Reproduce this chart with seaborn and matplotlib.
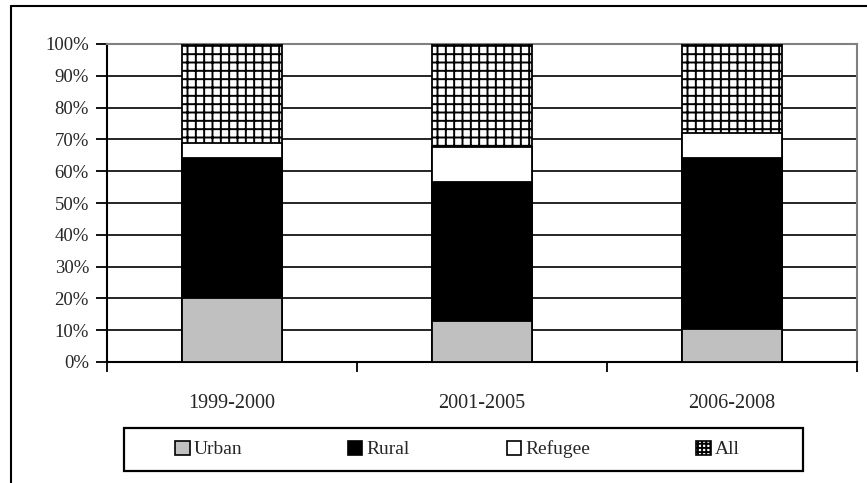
import numpy as np
import pandas as pd
import matplotlib
matplotlib.use("Agg")
import matplotlib.pyplot as plt
from matplotlib.patches import Patch, Rectangle
from matplotlib.lines import Line2D
import seaborn as sns

periods = ["1999-2000", "2001-2005", "2006-2008"]
urban = [20.0, 13.0, 10.5]
rural = [44.0, 43.5, 53.5]
refugee = [5.0, 11.0, 8.0]
all_ = [31.0, 32.5, 28.0]

series = ["Urban", "Rural", "Refugee", "All"]
colors = {"Urban": "#C0C0C0", "Rural": "#000000", "Refugee": "#FFFFFF", "All": "#FFFFFF"}
hatches = {"Urban": None, "Rural": None, "Refugee": None, "All": "++"}
legend_hatches = {"Urban": None, "Rural": None, "Refugee": None, "All": "++++"}

df = pd.DataFrame({"period": periods, "Urban": urban, "Rural": rural,
                   "Refugee": refugee, "All": all_})
cum = df[series].cumsum(axis=1)
cum["period"] = df["period"]

sns.set_style("white")
plt.rcParams["font.family"] = ["Liberation Serif", "DejaVu Serif"]
plt.rcParams["hatch.linewidth"] = 1.4

W, H = 867, 483
fig = plt.figure(figsize=(W / 100, H / 100), dpi=100)
ax = fig.add_axes([107 / W, 1 - 362 / H, 750 / W, 318 / H])

# stacked bars: draw cumulative totals from the top segment down
for s in reversed(series):
    sns.barplot(data=cum, x="period", y=s, order=periods, color=colors[s],
                width=0.4, edgecolor="black", linewidth=1.3, ax=ax,
                hatch=hatches[s], saturation=1, zorder=3)

ax.set_xlim(-0.5, 2.5)
ax.set_ylim(0, 100)
ax.set_yticks(np.arange(0, 101, 10))
ax.set_yticklabels([f"{v}%" for v in range(0, 101, 10)], fontsize=13.5)
ax.yaxis.grid(True, color="black", linewidth=1.2, zorder=0)
ax.set_axisbelow(True)
ax.set_xlabel("")
ax.set_ylabel("")
ax.tick_params(axis="y", length=8, width=1.3, direction="out", color="black", pad=5, left=True)
ax.tick_params(axis="x", which="major", length=0, labelsize=14.5, pad=23)
ax.set_xticks([-0.5, 0.5, 1.5, 2.5], minor=True)
ax.tick_params(axis="x", which="minor", length=7, width=1.3, direction="out", color="black", bottom=True)

for side in ["left", "bottom"]:
    ax.spines[side].set_color("black")
    ax.spines[side].set_linewidth(1.5)
for side in ["top", "right"]:
    ax.spines[side].set_color("#808080")
    ax.spines[side].set_linewidth(1.5)
    ax.spines[side].set_visible(True)

# legend: framed box with four equal-width columns, entries centred in each
lx0, lx1, ly0, ly1 = 124, 803, 428, 471
fig.add_artist(Rectangle((lx0 / W, 1 - ly1 / H), (lx1 - lx0) / W, (ly1 - ly0) / H,
                         transform=fig.transFigure, facecolor="none",
                         edgecolor="black", linewidth=1.6))
colw = (lx1 - lx0) / len(series)
for i, s in enumerate(series):
    h = Patch(facecolor=colors[s], edgecolor="black", hatch=legend_hatches[s],
              linewidth=1.2, label=s)
    cx = lx0 + colw * (i + 0.5)
    fig.legend(handles=[h], loc="center", bbox_to_anchor=(cx / W, 1 - (ly0 + ly1) / 2 / H),
               frameon=False, fontsize=14, handlelength=0.75, handleheight=0.75,
               handletextpad=0.2, borderpad=0, borderaxespad=0)

# outer chart border (left and top edges)
fig.add_artist(Line2D([11 / W, 11 / W], [0, 1 - 6 / H], transform=fig.transFigure,
                      color="black", linewidth=1.5))
fig.add_artist(Line2D([11 / W, 1], [1 - 6 / H, 1 - 6 / H], transform=fig.transFigure,
                      color="black", linewidth=1.5))

fig.savefig("out.png", dpi=100, facecolor="white")
